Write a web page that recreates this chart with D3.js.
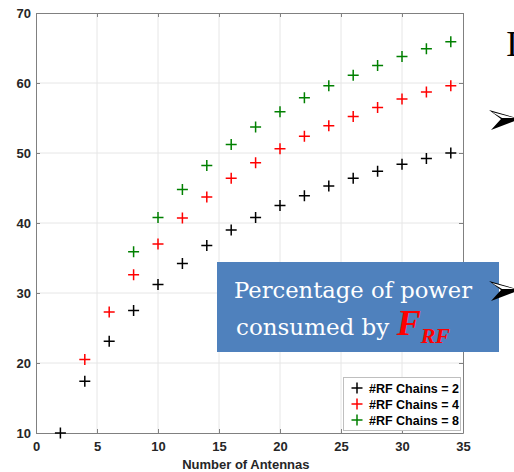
<!DOCTYPE html>
<html>
<head>
<meta charset="utf-8">
<script src="https://cdn.jsdelivr.net/npm/d3@7"></script>
<style>
  html, body { margin: 0; padding: 0; background: #fff; }
  svg { display: block; }
</style>
</head>
<body>
<div id="chart"></div>
<script>
// antenna counts and percentage values per RF-chain setting
const antennas2 = [2, 4, 6, 8, 10, 12, 14, 16, 18, 20, 22, 24, 26, 28, 30, 32, 34];
const chains2 = [10, 17.4, 23.1, 27.5, 31.2, 34.2, 36.8, 39, 40.8, 42.5, 43.9, 45.3, 46.4, 47.4, 48.4, 49.2, 50];
const antennas4 = [4, 6, 8, 10, 12, 14, 16, 18, 20, 22, 24, 26, 28, 30, 32, 34];
const chains4 = [20.5, 27.3, 32.6, 37, 40.7, 43.7, 46.4, 48.6, 50.6, 52.4, 53.9, 55.2, 56.5, 57.7, 58.7, 59.6];
const antennas8 = [8, 10, 12, 14, 16, 18, 20, 22, 24, 26, 28, 30, 32, 34];
const chains8 = [35.9, 40.8, 44.8, 48.2, 51.2, 53.7, 55.9, 57.9, 59.6, 61.1, 62.5, 63.8, 64.9, 65.9];

const xTicks = [0, 5, 10, 15, 20, 25, 30, 35];
const yTicks = [10, 20, 30, 40, 50, 60, 70];
const seriesNames = ['#RF Chains = 2', '#RF Chains = 4', '#RF Chains = 8'];
const seriesColors = ['#000000', '#ff0000', '#008000'];

const series = [
  { name: seriesNames[0], color: seriesColors[0], xs: antennas2, ys: chains2 },
  { name: seriesNames[1], color: seriesColors[1], xs: antennas4, ys: chains4 },
  { name: seriesNames[2], color: seriesColors[2], xs: antennas8, ys: chains8 },
];

const W = 514, H = 472;
const margin = { top: 13, right: 51, bottom: 39, left: 36 };
const iw = W - margin.left - margin.right;
const ih = H - margin.top - margin.bottom;

const svg = d3.select('#chart').append('svg')
  .attr('width', W)
  .attr('height', H);

const x = d3.scaleLinear().domain([0, 35]).range([margin.left, margin.left + iw]);
const y = d3.scaleLinear().domain([10, 70]).range([margin.top + ih, margin.top]);

// grid
svg.append('g').selectAll('line')
  .data(xTicks.slice(1, -1))
  .join('line')
  .attr('x1', d => x(d)).attr('x2', d => x(d))
  .attr('y1', y(10)).attr('y2', y(70))
  .attr('stroke', '#e6e6e6').attr('stroke-width', 1);
svg.append('g').selectAll('line')
  .data(yTicks.slice(1, -1))
  .join('line')
  .attr('x1', x(0)).attr('x2', x(35))
  .attr('y1', d => y(d)).attr('y2', d => y(d))
  .attr('stroke', '#e6e6e6').attr('stroke-width', 1);

// axes (matlab style, ticks inward, box on)
const tickFont = g => g.selectAll('text')
  .style('font-family', 'Liberation Sans, Arial, sans-serif')
  .style('font-size', '13px')
  .style('font-weight', 'bold')
  .style('fill', '#262626');

svg.append('g')
  .attr('transform', `translate(0,${y(10)})`)
  .call(d3.axisBottom(x).tickValues(xTicks).tickSizeInner(-4).tickSizeOuter(0).tickPadding(9))
  .call(g => g.select('.domain').attr('stroke', '#808080'))
  .call(g => g.selectAll('.tick line').attr('stroke', '#808080'))
  .call(tickFont);

svg.append('g')
  .attr('transform', `translate(${x(0)},0)`)
  .call(d3.axisLeft(y).tickValues(yTicks).tickSizeInner(-4).tickSizeOuter(0).tickPadding(5))
  .call(g => g.select('.domain').attr('stroke', '#808080'))
  .call(g => g.selectAll('.tick line').attr('stroke', '#808080'))
  .call(tickFont);

svg.append('g')
  .attr('transform', `translate(0,${y(70)})`)
  .call(d3.axisTop(x).tickValues(xTicks).tickSizeInner(-4).tickSizeOuter(0).tickFormat(''))
  .call(g => g.select('.domain').attr('stroke', '#808080'))
  .call(g => g.selectAll('.tick line').attr('stroke', '#808080'));

svg.append('g')
  .attr('transform', `translate(${x(35)},0)`)
  .call(d3.axisRight(y).tickValues(yTicks).tickSizeInner(-4).tickSizeOuter(0).tickFormat(''))
  .call(g => g.select('.domain').attr('stroke', '#808080'))
  .call(g => g.selectAll('.tick line').attr('stroke', '#808080'));

svg.append('text')
  .attr('x', x(17.2)).attr('y', 469)
  .attr('text-anchor', 'middle')
  .style('font-family', 'Liberation Sans, Arial, sans-serif')
  .style('font-size', '13px')
  .style('font-weight', 'bold')
  .style('fill', '#262626')
  .text('Number of Antennas');

// plus markers
const plus = (g, cx, cy, color) => {
  g.append('path')
    .attr('d', `M${cx - 5.5},${cy}H${cx + 5.5}M${cx},${cy - 5.5}V${cy + 5.5}`)
    .attr('stroke', color).attr('stroke-width', 1.5).attr('fill', 'none');
};

series.forEach(s => {
  const g = svg.append('g');
  s.xs.forEach((xv, i) => plus(g, x(xv), y(s.ys[i]), s.color));
});

// legend
const lg = svg.append('g');
lg.append('rect')
  .attr('x', 343.5).attr('y', 377.5).attr('width', 117).attr('height', 53)
  .attr('fill', '#fff').attr('stroke', '#bfbfbf').attr('stroke-width', 1);
series.forEach((s, i) => {
  const cy = 388 + i * 16;
  plus(lg, 357, cy, s.color);
  lg.append('text')
    .attr('x', 369).attr('y', cy + 4.5)
    .style('font-family', 'Liberation Sans, Arial, sans-serif')
    .style('font-size', '12.5px')
    .style('font-weight', 'bold')
    .style('fill', '#000')
    .text(s.name);
});

// slide overlay
svg.append('rect')
  .attr('x', 217).attr('y', 262).attr('width', 282).attr('height', 90)
  .attr('fill', '#4f81bd');
svg.append('text')
  .attr('x', 234).attr('y', 298)
  .attr('textLength', 238).attr('lengthAdjust', 'spacingAndGlyphs')
  .style('font-family', 'DejaVu Serif, Liberation Serif, serif')
  .style('font-size', '23px')
  .style('fill', '#fff')
  .text('Percentage of power');
const t2 = svg.append('text')
  .attr('x', 236).attr('y', 335)
  .style('font-family', 'DejaVu Serif, Liberation Serif, serif')
  .style('font-size', '23px')
  .style('fill', '#fff');
t2.append('tspan').text('consumed by ');
t2.append('tspan')
  .style('font-family', 'Liberation Serif, serif')
  .style('font-size', '36px').style('font-weight', 'bold').style('font-style', 'italic')
  .style('fill', '#ff0000').text('F');
t2.append('tspan')
  .attr('dy', 8)
  .style('font-family', 'Liberation Serif, serif')
  .style('font-size', '22px').style('font-weight', 'bold').style('font-style', 'italic')
  .style('fill', '#ff0000').text('RF');

svg.append('text')
  .attr('x', 506).attr('y', 56)
  .style('font-family', 'Liberation Serif, serif')
  .style('font-size', '36px')
  .style('fill', '#000')
  .text('I');

// arrow bullets
[119, 290].forEach(ay => {
  svg.append('path')
    .attr('d', `M489,${ay - 9}L520,${ay}L491,${ay + 11}L501,${ay}Z`)
    .attr('fill', '#000');
  svg.append('path')
    .attr('d', `M492,${ay - 7}L515,${ay - 1}L502,${ay - 1}Z`)
    .attr('fill', '#fff');
});
</script>
</body>
</html>
